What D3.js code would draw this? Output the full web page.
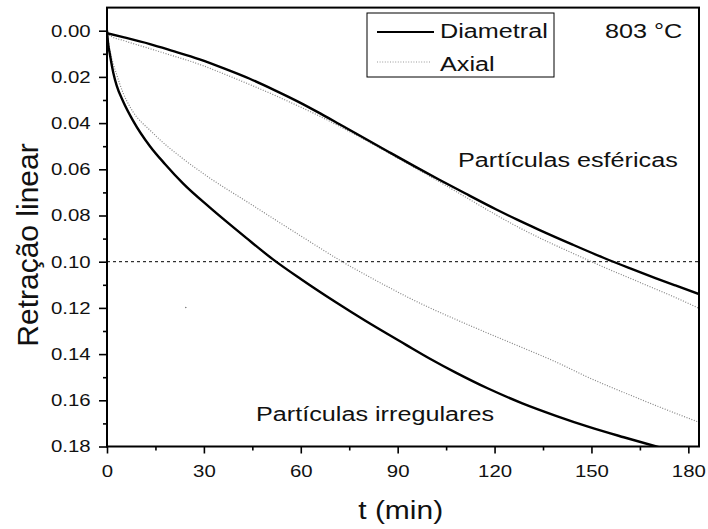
<!DOCTYPE html>
<html lang="pt">
<head>
<meta charset="UTF-8">
<title>Retração linear a 803 °C</title>
<script src="https://cdnjs.cloudflare.com/ajax/libs/d3/7.8.5/d3.min.js"></script>
<style>
  body { margin: 0; background: #fff; }
  svg { display: block; font-family: Arial, "Liberation Sans", sans-serif; }
  .axis path { display: none; }
  .axis line { stroke: #000; stroke-width: 1.6; }
  .axis text { font-size: 17px; fill: #111; }
  .lbl { fill: #111; }
</style>
</head>
<body>
<svg id="chart" width="708" height="529"></svg>
<script>
// --- Data ---
// spherical particles, diametral / axial
const tSphDiam = [0, 5, 13.3, 20, 28.7, 36, 44.2, 52, 59.6, 66, 72, 80, 87.4, 95, 102.9, 111, 120.4, 127, 133.8, 144, 153.9, 162, 169.8, 176, 183.3];
const sphDiam  = [0.0011, 0.0028, 0.0058, 0.0086, 0.0124, 0.0162, 0.0208, 0.0258, 0.031, 0.0358, 0.0405, 0.0468, 0.0526, 0.0585, 0.0645, 0.0705, 0.0773, 0.0818, 0.0862, 0.0925, 0.0984, 0.1029, 0.1071, 0.1103, 0.114];
const tSphAx   = [0, 1, 5, 13.3, 20, 28.7, 36, 44.2, 52, 58.6, 66, 72, 80, 87.4, 95, 102.9, 111, 118.3, 127, 133.8, 144, 153.9, 162, 169.8, 176, 183.3];
const sphAx    = [0.001, 0.0022, 0.0042, 0.0078, 0.0107, 0.0146, 0.0186, 0.0233, 0.028, 0.0322, 0.0371, 0.0414, 0.0474, 0.0531, 0.0591, 0.0654, 0.072, 0.078, 0.0848, 0.0896, 0.0962, 0.1024, 0.1072, 0.1118, 0.1155, 0.1202];
// irregular particles, diametral / axial
const tIrrDiam = [0, 0.3, 0.93, 2, 3, 5, 8.1, 13.3, 18, 23.6, 31.8, 43.2, 51.4, 60, 71, 80, 92.6, 100, 108, 118, 128.6, 139, 149.2, 160, 169.8, 176, 183.3];
const irrDiam  = [0, 0.005, 0.0105, 0.0185, 0.0238, 0.0306, 0.039, 0.05, 0.0578, 0.0662, 0.0765, 0.0898, 0.099, 0.1075, 0.1177, 0.1256, 0.136, 0.142, 0.148, 0.1549, 0.1613, 0.1667, 0.1715, 0.176, 0.1799, 0.1823, 0.185];
const tIrrAx   = [0, 0.5, 1, 3, 5, 7.1, 14.3, 23.6, 30.8, 44.2, 59.6, 72, 87.4, 92.6, 100, 108, 118, 128.6, 139, 149.2, 160, 169.8, 176, 183.3];
const irrAx    = [0.001, 0.005, 0.009, 0.019, 0.027, 0.0329, 0.0444, 0.0555, 0.0628, 0.0748, 0.0885, 0.0993, 0.1112, 0.115, 0.12, 0.125, 0.131, 0.1372, 0.1434, 0.1502, 0.1566, 0.1622, 0.1656, 0.1695];
// stray sample in the axial record
const strayT = [24.4];
const strayV = [0.1198];

const refLine = 0.10;
const xTicks = [0, 30, 60, 90, 120, 150, 180];
const xMinor = [15, 45, 75, 105, 135, 165];
const yTicks = [0, 0.02, 0.04, 0.06, 0.08, 0.10, 0.12, 0.14, 0.16, 0.18];
const yMinor = [0.01, 0.03, 0.05, 0.07, 0.09, 0.11, 0.13, 0.15, 0.17];
const legendNames = ["Diametral", "Axial"];

// --- Setup ---
const svg = d3.select("#chart");
const plot = { left: 107, right: 699, top: 7.6, bottom: 446.5 };
const SX = 1.2; // the picture is stretched sideways

const x = d3.scaleLinear().domain([0, 183.3]).range([plot.left, plot.right]);
const y = d3.scaleLinear().domain([-0.01, 0.18]).range([plot.top, plot.bottom]);

svg.append("defs").append("clipPath").attr("id", "clip")
  .append("rect")
  .attr("x", plot.left).attr("y", plot.top)
  .attr("width", plot.right - plot.left).attr("height", plot.bottom - plot.top);

function label(px, py, txt, size, anchor) {
  return svg.append("text")
    .attr("class", "lbl")
    .attr("transform", `translate(${px},${py}) scale(${SX},1)`)
    .attr("font-size", size)
    .attr("text-anchor", anchor || "start")
    .text(txt);
}

// --- Axes ---
const gy = svg.append("g").attr("class", "axis")
  .attr("transform", `translate(${plot.left},0)`)
  .call(d3.axisLeft(y).tickValues(yTicks).tickSize(8).tickSizeOuter(0).tickFormat(d3.format(".2f")));
gy.selectAll("text").attr("x", -16.3 / SX).attr("transform", `scale(${SX},1)`);

svg.append("g").attr("class", "axis")
  .attr("transform", `translate(${plot.left},0)`)
  .call(d3.axisLeft(y).tickValues(yMinor).tickSize(4).tickSizeOuter(0).tickFormat(""));

const gx = svg.append("g").attr("class", "axis")
  .attr("transform", `translate(0,${plot.bottom})`)
  .call(d3.axisBottom(x).tickValues(xTicks).tickSize(7).tickPadding(11).tickSizeOuter(0));
gx.selectAll("text").attr("transform", `scale(${SX},1)`);

svg.append("g").attr("class", "axis")
  .attr("transform", `translate(0,${plot.bottom})`)
  .call(d3.axisBottom(x).tickValues(xMinor).tickSize(4).tickSizeOuter(0).tickFormat(""));

// --- Reference line ---
svg.append("line")
  .attr("x1", plot.left).attr("x2", plot.right)
  .attr("y1", y(refLine)).attr("y2", y(refLine))
  .attr("stroke", "#000").attr("stroke-width", 1)
  .attr("stroke-dasharray", "3,3");

// --- Curves ---
const line = d3.line().x(d => x(d[0])).y(d => y(d[1])).curve(d3.curveMonotoneX);
const zip = (a, b) => a.map((v, i) => [v, b[i]]);
const curves = svg.append("g").attr("clip-path", "url(#clip)");

[[tSphAx, sphAx], [tIrrAx, irrAx]].forEach(([t, v]) => {
  curves.append("path")
    .attr("d", line(zip(t, v)))
    .attr("fill", "none").attr("stroke", "#858585")
    .attr("stroke-width", 1.2).attr("stroke-dasharray", "1,1.6");
});
[[tSphDiam, sphDiam], [tIrrDiam, irrDiam]].forEach(([t, v]) => {
  curves.append("path")
    .attr("d", line(zip(t, v)))
    .attr("fill", "none").attr("stroke", "#000")
    .attr("stroke-width", 2.4);
});
curves.selectAll("circle.stray").data(zip(strayT, strayV)).join("circle")
  .attr("class", "stray")
  .attr("cx", d => x(d[0])).attr("cy", d => y(d[1])).attr("r", 0.8)
  .attr("fill", "#777");

// --- Frame ---
svg.append("rect")
  .attr("x", plot.left).attr("y", plot.top)
  .attr("width", plot.right - plot.left).attr("height", plot.bottom - plot.top)
  .attr("fill", "none").attr("stroke", "#000").attr("stroke-width", 2);

// --- Legend ---
svg.append("rect")
  .attr("x", 367).attr("y", 13).attr("width", 187).attr("height", 64)
  .attr("fill", "#fff").attr("stroke", "#000").attr("stroke-width", 1);
svg.append("line").attr("x1", 377).attr("x2", 434).attr("y1", 32).attr("y2", 32)
  .attr("stroke", "#000").attr("stroke-width", 2);
svg.append("line").attr("x1", 377).attr("x2", 430).attr("y1", 62).attr("y2", 62)
  .attr("stroke", "#999").attr("stroke-width", 1).attr("stroke-dasharray", "1,1.6");
label(440, 38, legendNames[0], 21);
label(440, 71, legendNames[1], 21);

// --- Annotations ---
label(605, 38, "803 °C", 21);
label(458, 167, "Partículas esféricas", 21);
label(256, 421, "Partículas irregulares", 21);

// --- Axis titles ---
label(400.7, 519, "t (min)", 25, "middle");
svg.append("text").attr("class", "lbl")
  .attr("transform", "translate(38,245) rotate(-90)")
  .attr("font-size", 30).attr("text-anchor", "middle")
  .text("Retração linear");
</script>
</body>
</html>
